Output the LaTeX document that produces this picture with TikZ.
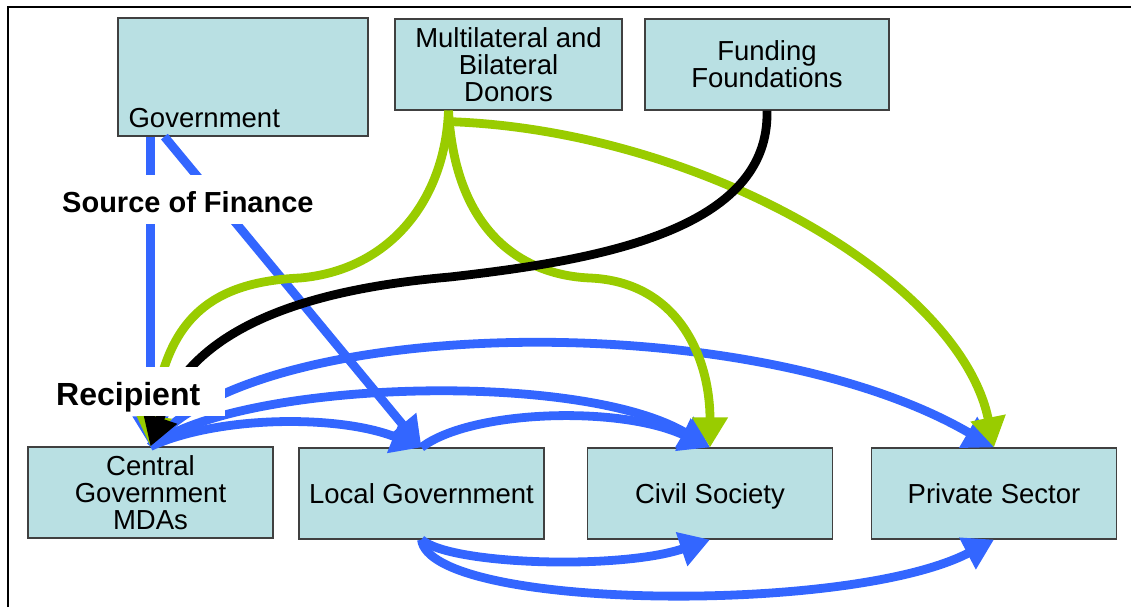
\documentclass[tikz,border=0pt]{standalone}
\usepackage{fontspec}
\setmainfont{Liberation Sans}
\usetikzlibrary{arrows.meta}
\definecolor{boxfill}{RGB}{185,224,227}
\definecolor{boxline}{RGB}{64,64,64}
\definecolor{flowblue}{RGB}{51,102,255}
\definecolor{flowgreen}{RGB}{153,204,0}

\begin{document}
\begin{tikzpicture}[x=1pt, y=-1pt,
	box/.style = {draw=boxline, line width=1.2pt, fill=boxfill, minimum width=245pt, minimum height=91pt, inner sep=0pt, align=center, font=\fontsize{27.5}{27}\selectfont},
	flow/.style = {line width=8.8pt, -{Triangle[length=30pt, width=34pt]}},
	tag/.style = {fill=white, inner ysep=0pt, inner xsep=8pt, anchor=base west}]
		\useasboundingbox (0,0) rectangle (1131,607);
		\draw[line width=2pt] (8,607) -- (8,7) -- (1131,7);
		% sources of finance
		\node[box, minimum width=250pt, minimum height=118pt] (gov) at (243,77) {};
		\node[anchor=base west, inner sep=0pt, font=\fontsize{27.5}{27}\selectfont] (govtext) at ([xshift=11pt, yshift=9pt]gov.south west) {Government};
		\node[box, minimum width=227pt] (donors) at (508.5,64.5) {Multilateral and\\Bilateral\\Donors};
		\node[box, minimum width=244pt] (found) at (767,64.5) {Funding\\Foundations};
		% recipients
		\node[box] (cgov) at (150.5,492.5) {Central\\Government\\MDAs};
		\node[box] (lgov) at (421.5,493.5) {Local Government};
		\node[box, text depth=0pt] (civil) at (710,493.5) {Civil Society};
		\node[box] (priv) at (994,493.5) {Private Sector};
		\coordinate (donstart) at ([xshift=-60pt]donors.south);
		% government flows
		\draw[flow, flowblue] (cgov.north |- gov.south) -- (cgov.north);
		\draw[flow, flowblue] ([xshift=47pt]gov.south west) -- (lgov.north);
		\draw[flow, flowblue] (cgov.north) .. controls (250,315) and (750,305) .. (priv.north);
		\draw[flow, flowblue] (cgov.north) .. controls (240,380) and (580,370) .. (civil.north);
		\draw[flow, flowblue] (cgov.north) .. controls (220,415) and (340,415) .. (lgov.north);
		\draw[flow, flowblue] (lgov.north) .. controls (470,410) and (620,405) .. (civil.north);
		\draw[flow, flowblue] (lgov.south) .. controls (450,565) and (620,570) .. (civil.south);
		\draw[flow, flowblue] (lgov.south) .. controls (430,610) and (850,615) .. (priv.south);
		% donor and foundation flows
		\draw[flow, flowgreen] (donstart) .. controls (445,200) and (390,270) .. (300,278) .. controls (210,282) and (165,320) .. (cgov.north);
		\draw[flow, flowgreen] (donstart) .. controls (455,230) and (520,275) .. (590,278) .. controls (680,282) and (710,360) .. (civil.north);
		\draw[flow, flowgreen] ([yshift=-11pt]donstart) .. controls (700,130) and (960,280) .. (priv.north);
		\draw[flow] (found.south) .. controls (770,230) and (600,260) .. (450,277) .. controls (300,290) and (190,330) .. (cgov.north);
		% labels
		\node[tag, text height=37pt, text depth=12pt, font=\fontsize{29}{29}\selectfont\bfseries] (source) at (54,212) {Source of Finance};
		\node[tag, text height=38pt, text depth=11pt, text width=161pt, align=left, font=\fontsize{32}{32}\selectfont\bfseries] (recip) at (48,405) {Recipient};
	\end{tikzpicture}
\end{document}
